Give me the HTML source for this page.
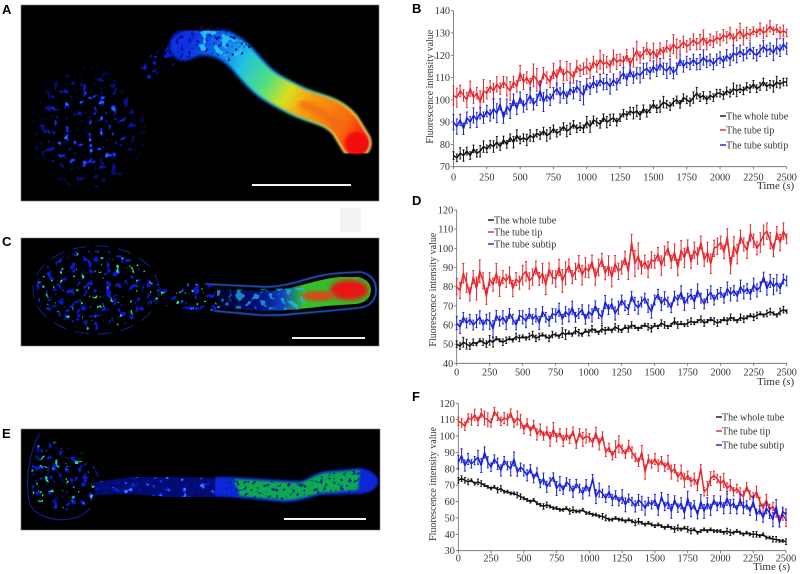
<!DOCTYPE html>
<html>
<head>
<meta charset="utf-8">
<title>Fluorescence intensity figure</title>
<style>
html,body{margin:0;padding:0;background:#fff}
svg{display:block}
text{font-family:"Liberation Serif",serif;fill:#333}
.letter{font-family:"Liberation Sans",sans-serif;font-weight:bold;font-size:13px;fill:#000}
</style>
</head>
<body>
<svg id="fig" width="800" height="574" viewBox="0 0 800 574" xmlns="http://www.w3.org/2000/svg">
<defs>
<filter id="sp-blue" filterUnits="userSpaceOnUse" x="0" y="0" width="800" height="574" color-interpolation-filters="sRGB">
<feTurbulence type="fractalNoise" baseFrequency=".17" numOctaves="2" seed="4" result="n"/>
<feColorMatrix in="n" values="0 0 0 0 .03  0 0 0 0 .1  0 0 0 0 .85  9 0 0 0 -5.2" result="c"/>
<feComposite in="c" in2="SourceAlpha" operator="in"/>
</filter>
<filter id="sp-light" filterUnits="userSpaceOnUse" x="0" y="0" width="800" height="574" color-interpolation-filters="sRGB">
<feTurbulence type="fractalNoise" baseFrequency=".17" numOctaves="2" seed="4" result="n"/>
<feColorMatrix in="n" values="0 0 0 0 .2  0 0 0 0 .5  0 0 0 0 1  14 0 0 0 -9.6" result="c"/>
<feComposite in="c" in2="SourceAlpha" operator="in"/>
</filter>
<filter id="sp-green" filterUnits="userSpaceOnUse" x="0" y="0" width="800" height="574" color-interpolation-filters="sRGB">
<feTurbulence type="fractalNoise" baseFrequency=".2" numOctaves="2" seed="14" result="n"/>
<feColorMatrix in="n" values="0 0 0 0 .15  0 0 0 0 .85  0 0 0 0 .6  14 0 0 0 -9.6" result="c"/>
<feComposite in="c" in2="SourceAlpha" operator="in"/>
</filter>
<filter id="sp-dark" filterUnits="userSpaceOnUse" x="0" y="0" width="800" height="574" color-interpolation-filters="sRGB">
<feTurbulence type="fractalNoise" baseFrequency=".25" numOctaves="2" seed="21" result="n"/>
<feColorMatrix in="n" values="0 0 0 0 0  0 0 0 0 .05  0 0 0 0 .6  9 0 0 0 -5.2" result="c"/>
<feComposite in="c" in2="SourceAlpha" operator="in"/>
</filter>
<filter id="sp-cyan" filterUnits="userSpaceOnUse" x="0" y="0" width="800" height="574" color-interpolation-filters="sRGB">
<feTurbulence type="fractalNoise" baseFrequency=".14" numOctaves="2" seed="31" result="n"/>
<feColorMatrix in="n" values="0 0 0 0 .15  0 0 0 0 .75  0 0 0 0 .95  10 0 0 0 -5.4" result="c"/>
<feComposite in="c" in2="SourceAlpha" operator="in"/>
</filter>
<filter id="b05"><feGaussianBlur stdDeviation=".5"/></filter>
<filter id="b1"><feGaussianBlur stdDeviation="1"/></filter>
<filter id="b2"><feGaussianBlur stdDeviation="2"/></filter>
<radialGradient id="spore-fade"><stop offset="0" stop-color="#fff"/><stop offset=".7" stop-color="#fff" stop-opacity=".85"/><stop offset="1" stop-color="#fff" stop-opacity=".2"/></radialGradient>
<linearGradient id="tube-a" gradientUnits="userSpaceOnUse" x1="190" y1="42" x2="365" y2="148">
<stop offset="0" stop-color="#0a30e0"/><stop offset=".14" stop-color="#1070f0"/><stop offset=".27" stop-color="#20c0e0"/><stop offset=".42" stop-color="#50e080"/><stop offset=".54" stop-color="#d8e020"/><stop offset=".64" stop-color="#f8a010"/><stop offset=".86" stop-color="#f86808"/><stop offset="1" stop-color="#f00808"/>
</linearGradient>
<linearGradient id="rim-a" gradientUnits="userSpaceOnUse" x1="190" y1="42" x2="365" y2="148">
<stop offset="0" stop-color="#001890"/><stop offset=".4" stop-color="#0868e0"/><stop offset=".65" stop-color="#30d0c0"/><stop offset=".85" stop-color="#e8e860"/><stop offset="1" stop-color="#f8f080"/>
</linearGradient>
<linearGradient id="tube-c" gradientUnits="userSpaceOnUse" x1="217" y1="0" x2="372" y2="0">
<stop offset="0" stop-color="#000428"/><stop offset=".28" stop-color="#001080"/><stop offset=".42" stop-color="#1040c0"/><stop offset=".56" stop-color="#30c030"/><stop offset="1" stop-color="#40b020"/>
</linearGradient>
</defs>

<rect width="800" height="574" fill="#fff"/>
<rect x="340" y="208" width="21" height="24" fill="#f3f3f3"/>

<g>
<rect x="21" y="5" width="358" height="196" fill="#000" stroke="#777" stroke-width=".6"/>
<ellipse cx="88" cy="128" rx="58" ry="62" fill="url(#spore-fade)" filter="url(#sp-blue)"/>
<ellipse cx="88" cy="128" rx="42" ry="42" fill="url(#spore-fade)" filter="url(#sp-light)"/>
<path d="M143 72 L165 58 L185 47" fill="none" stroke="#fff" stroke-width="20" filter="url(#sp-blue)"/>
<path d="M184 46 C200 37 225 38 245 62 S272 88 293 99 S330 108 345 125 L356 143" fill="none" stroke="url(#rim-a)" stroke-width="31" stroke-linecap="round" filter="url(#b1)"/>
<path d="M184 46 C200 37 225 38 245 62 S272 88 293 99 S330 108 345 125 L356 143" fill="none" stroke="url(#tube-a)" stroke-width="27" stroke-linecap="round" filter="url(#b1)"/>
<path d="M176 46 C200 37 225 38 240 56" fill="none" stroke="#fff" stroke-width="29" filter="url(#sp-dark)"/>
<path d="M196 42 C210 38 225 42 238 56" fill="none" stroke="#fff" stroke-width="20" filter="url(#sp-cyan)"/>
<circle cx="356" cy="143" r="11" fill="#f40a08" filter="url(#b1)"/>
<path d="M300 103 Q325 112 345 130" fill="none" stroke="#f06818" stroke-width="9" opacity=".7" filter="url(#b2)"/>
<rect x="252" y="184" width="99" height="2" fill="#f4f4f4"/>
</g>

<g>
<rect x="21" y="238" width="358" height="108" fill="#000" stroke="#777" stroke-width=".6"/>
<ellipse cx="96" cy="290" rx="63" ry="44" fill="none" stroke="#102090" stroke-width="1" stroke-dasharray="14 9"/>
<ellipse cx="94" cy="290" rx="58" ry="40" fill="#fff" filter="url(#sp-blue)"/>
<ellipse cx="94" cy="290" rx="58" ry="40" fill="#fff" filter="url(#sp-green)"/>
<path d="M150 283 L215 284 L217 312 L150 306 Z" fill="#fff" filter="url(#sp-blue)"/>
<path d="M150 283 L215 284 L217 312 L150 306 Z" fill="#fff" filter="url(#sp-green)"/>
<path d="M205 284 L267 287 C295 286 310 275 340 273 L360 272 C372 274 376 282 376 290 C376 300 370 307 358 308 L327 311 C300 313 285 316 260 315 L215 311" fill="none" stroke="#2060e8" stroke-width="1.6" filter="url(#b05)"/>
<path d="M217 289 L267 291 C295 290 310 280 340 277 L358 277 C367 279 371 284 371 290 C371 297 366 303 356 304 L327 306 C300 309 285 311 260 311 L217 308 Z" fill="url(#tube-c)"/>
<ellipse cx="349" cy="290" rx="19" ry="10" fill="#e81818" filter="url(#b2)"/>
<ellipse cx="318" cy="296" rx="17" ry="5" fill="#d84818" filter="url(#b2)"/>
<path d="M217 290 L305 288 L305 310 L217 308 Z" fill="#fff" filter="url(#sp-cyan)" opacity=".7"/>
<rect x="292" y="337" width="73" height="2" fill="#f0f0f0"/>
</g>

<g>
<rect x="21" y="429" width="359" height="101" fill="#000" stroke="#777" stroke-width=".6"/>
<path d="M40 433 C30 450 24 480 30 505 C40 522 75 526 90 508" fill="none" stroke="#101c90" stroke-width="1.2"/>
<path d="M40 440 C60 440 85 445 100 478 C100 495 88 510 70 510 C50 510 35 505 32 490 C30 470 32 450 40 440 Z" fill="#fff" filter="url(#sp-blue)"/>
<path d="M40 440 C60 440 85 445 100 478 C100 495 88 510 70 510 C50 510 35 505 32 490 C30 470 32 450 40 440 Z" fill="#fff" filter="url(#sp-green)"/>
<path d="M95 482 L130 477 L165 477 L233 478 L240 497 L170 497 L130 494 L95 495 Z" fill="#000c70"/>
<path d="M95 482 L130 477 L165 477 L233 478 L240 497 L170 497 L130 494 L95 495 Z" fill="#fff" filter="url(#sp-blue)"/>
<path d="M95 482 L130 477 L165 477 L233 478 L240 497 L170 497 L130 494 L95 495 Z" fill="#fff" filter="url(#sp-light)"/>
<path d="M215 477 L233 477 L300 481 C310 478 315 473 325 471 L360 468 C372 470 378 476 378 481 C378 488 372 493 358 494 L320 495 C305 499 295 503 280 502 L240 498 L215 496 Z" fill="#1028d8" filter="url(#b1)"/>
<path d="M233 479 L300 483 C310 480 315 475 325 473 L360 470 L358 490 L320 493 C305 497 295 500 283 500 L240 496 Z" fill="#10a850" filter="url(#b1)"/>
<path d="M225 478 L300 483 L320 474 L364 470 L358 492 L320 494 L283 500 L225 496 Z" fill="#fff" filter="url(#sp-dark)" opacity=".8"/>
<rect x="284" y="518" width="82" height="2" fill="#f4f4f4"/>
</g>

<text class="letter" x="2" y="14">A</text>
<text class="letter" x="412" y="13">B</text>
<text class="letter" x="2" y="246">C</text>
<text class="letter" x="412" y="205">D</text>
<text class="letter" x="2" y="438">E</text>
<text class="letter" x="412" y="401">F</text>
</svg>

<script>
const xTicks = [0,250,500,750,1000,1250,1500,1750,2000,2250,2500];
const sampleStep = 25;
const bYTicks = [70,80,90,100,110,120,130,140];
const dYTicks = [40,50,60,70,80,90,100,110,120];
const fYTicks = [30,40,50,60,70,80,90,100,110,120];
const legendNames = ["The whole tube","The tube tip","The tube subtip"];

const bWhole = [75,74,76,75,77,75,78,76,77,79,78,80,79,81,79,82,80,83,81,84,
82,83,82,84,83,85,84,86,84,85,87,85,86,88,86,87,89,87,88,87,
90,88,91,90,89,92,90,91,92,90,92,94,93,95,94,95,93,96,94,96,
98,96,97,99,98,97,99,100,98,101,100,99,101,103,101,102,100,102,101,103,
103,102,104,103,105,104,105,104,106,105,107,105,106,108,106,107,106,108,107,108,108];
const bTip = [102,101,104,102,100,105,101,103,99,104,103,106,104,107,105,108,106,104,108,106,
112,108,110,107,111,109,106,112,110,108,113,110,115,111,113,112,110,115,113,114,
115,113,117,115,118,116,117,115,119,117,118,117,120,116,119,122,119,121,123,120,
122,119,123,121,124,122,125,123,124,126,124,125,127,125,126,128,125,127,126,128,
127,129,128,130,127,129,131,128,130,129,131,130,132,130,131,133,131,132,130,131,130];
const bSubtip = [90,88,91,87,92,90,93,91,94,92,95,93,96,94,98,92,97,95,100,96,
101,97,99,102,98,100,104,99,102,100,103,105,102,104,101,105,103,106,104,102,
107,105,108,106,109,107,108,106,109,107,110,112,109,113,110,112,111,113,114,112,
115,113,116,114,113,115,112,114,118,115,117,116,118,116,117,119,117,118,116,118,
119,117,120,118,121,120,122,120,121,123,121,120,122,124,122,123,121,124,122,125,123];
const bWholeErr = [2,3,2,2,3,2,3,2,2,3,2,3,2,2,3,2,2,3,2,2,3,2,2,3,2,2,2,3,2,2,2,3,2,2,2,2,3,2,2,2,2,2,3,2,2,2,2,2,3,2,2];
const bTipErr = [5,3,4,3,6,3,4,3,5,3,4,3,6,3,3,4,3,5,3,3,4,3,5,3,4,3,3,5,3,3,4,3,3,5,3,3,3,4,3,3,3,3,3,4,3,2,3,3,2,3,2];
const bSubtipErr = [4,3,3,4,3,3,5,3,4,3,3,4,3,5,3,3,4,3,3,5,3,3,3,4,3,3,3,3,4,3,3,3,4,3,3,3,3,4,3,3,3,3,4,3,3,3,3,3,4,3,3];

const dWhole = [50,49,51,50,49,51,50,52,51,50,52,51,53,52,51,52,53,52,54,53,
54,53,54,55,53,54,55,54,53,55,55,54,56,55,56,55,57,56,55,57,
56,58,57,56,58,57,58,57,59,58,57,59,58,60,59,58,59,60,59,58,
60,59,61,60,59,60,62,60,61,60,61,62,61,62,63,61,62,63,62,61,
62,63,62,64,63,62,64,63,64,65,64,65,66,65,66,67,66,65,67,68,67];
const dTip = [80,78,87,82,76,85,79,88,83,75,84,81,87,80,85,83,86,79,84,82,
86,88,83,85,90,84,87,81,89,85,84,90,83,87,91,85,88,92,86,90,
88,93,85,90,94,87,91,85,92,88,90,95,88,103,92,96,90,93,89,94,
93,97,91,96,100,93,98,90,99,95,101,93,99,96,103,94,98,92,100,101,
103,98,106,91,101,97,106,102,99,108,104,100,103,107,109,104,99,108,103,109,105];
const dSubtip = [61,59,64,61,63,60,62,64,60,63,62,58,65,62,64,61,66,63,60,65,
64,62,66,63,65,61,67,64,62,66,65,68,63,67,65,69,64,66,68,63,
67,65,70,66,64,72,68,71,66,69,73,70,68,75,71,69,72,74,70,67,
73,76,71,74,72,69,75,73,77,71,74,76,72,78,74,71,75,77,73,76,
77,74,79,76,78,75,80,77,79,76,81,78,80,85,79,83,80,82,79,84,83];
const dWholeErr = [2,3,2,1,2,3,1,2,1,2,1,2,2,1,2,1,3,1,2,1,2,1,2,1,2,1,2,1,1,2,1,2,1,2,1,2,1,2,1,2,1,2,1,2,1,2,1,2,1,2,1];
const dTipErr = [5,6,4,7,5,4,6,4,5,4,6,5,4,6,4,5,7,4,5,6,4,5,4,6,5,4,5,8,4,5,4,6,4,5,6,4,5,4,6,5,4,5,6,4,5,4,6,5,4,5,3];
const dSubtipErr = [4,3,3,4,3,5,3,4,3,3,4,3,4,3,3,4,3,4,3,3,4,3,4,3,4,3,3,4,3,4,3,4,3,3,4,3,4,3,4,3,3,4,3,4,3,4,3,4,5,3,3];

const fWhole = [73,74,73,72,73,71,72,71,70,69,68,69,67,68,66,66,65,65,64,63,
62,61,60,61,59,58,57,58,57,56,56,55,55,56,54,55,54,54,55,53,
53,52,52,51,51,50,49,49,50,49,49,48,49,48,47,48,47,46,47,46,
45,46,45,44,45,44,43,44,43,44,43,42,43,41,42,43,42,43,42,42,
42,41,42,41,41,42,41,40,41,40,40,40,39,40,38,38,37,37,36,36,35.5];
const fTip = [109,108,106,111,110,113,109,114,111,110,108,115,112,109,111,110,114,108,111,109,
104,108,103,107,101,104,100,103,98,104,99,102,97,101,98,103,95,102,98,100,
99,96,102,95,100,90,93,88,92,95,92,89,94,90,87,84,90,78,86,83,
86,82,85,81,84,78,80,75,78,73,76,72,74,70,80,66,68,74,76,74,
71,73,68,70,66,68,65,63,69,64,62,66,60,56,61,55,57,53,48,52,49];
const fSubtip = [84,88,82,86,83,85,87,82,90,84,81,86,83,79,85,82,80,86,78,81,
79,76,80,74,78,71,74,69,72,75,68,71,67,72,70,66,71,68,65,70,
66,74,63,67,65,62,66,61,64,60,63,58,62,60,57,61,59,56,60,58,
61,55,63,57,60,54,61,56,59,53,62,55,58,52,60,54,59,55,61,57,
60,56,62,57,59,55,61,56,58,54,60,52,55,50,56,53,49,57,47,54,52];
const fWholeErr = [2,2,1,2,1,1,2,1,1,2,1,1,1,2,1,1,1,2,1,1,1,1,2,1,1,1,1,2,1,1,1,1,1,2,1,2,1,1,1,1,1,2,1,1,1,2,1,1,2,1,2];
const fTipErr = [3,3,4,3,5,3,3,4,3,5,3,3,4,3,5,3,4,3,3,5,3,4,3,3,6,3,4,3,5,3,4,3,5,3,5,3,4,3,5,3,5,4,3,4,3,4,3,4,3,4,5];
const fSubtipErr = [5,4,3,5,4,3,4,3,5,3,4,3,3,4,3,5,3,4,3,4,3,5,3,4,3,5,3,4,5,3,4,3,5,3,4,5,3,5,4,3,4,5,3,4,3,4,3,4,5,3,4];

const colors = {whole:"#111111", tip:"#e8262c", subtip:"#1a22d8"};
const svgNS = "http://www.w3.org/2000/svg";
const fig = document.getElementById("fig");

function mk(parent, tag, attrs, txt){
  const e = document.createElementNS(svgNS, tag);
  for (const k in attrs) e.setAttribute(k, attrs[k]);
  if (txt !== undefined) e.textContent = txt;
  parent.appendChild(e);
  return e;
}

function drawChart(cfg){
  const root = mk(fig, "g", {});
  
  
  const xMax = xTicks[xTicks.length-1];
  const yMin = cfg.yTicks[0], yMax = cfg.yTicks[cfg.yTicks.length-1];
  const sx = v => cfg.x0 + (v/xMax)*(cfg.x1-cfg.x0);
  const sy = v => cfg.y0 - ((v-yMin)/(yMax-yMin))*(cfg.y0-cfg.y1);

  const ax = mk(root, "g", {stroke:"#666", "stroke-width":"0.8", fill:"none"});
  
  
  mk(ax, "line", {x1:cfg.x0, y1:cfg.y1, x2:cfg.x0, y2:cfg.y0});
  mk(ax, "line", {x1:cfg.x0, y1:cfg.y0, x2:cfg.x1, y2:cfg.y0});

  cfg.yTicks.forEach(t => {
    mk(ax, "line", {x1:cfg.x0-2.5, y1:sy(t), x2:cfg.x0, y2:sy(t)});
    const l = mk(root, "text", {x:cfg.x0-3.5, y:sy(t)+3.5, "text-anchor":"end", "font-size":"10.2"}, String(t));
    
    
  });
  xTicks.forEach(t => {
    mk(ax, "line", {x1:sx(t), y1:cfg.y0, x2:sx(t), y2:cfg.y0+2.5});
    const l = mk(root, "text", {x:sx(t), y:cfg.xLabelY, "text-anchor":"middle", "font-size":"10.2"}, String(t));
    
    
  });

  const yt = mk(root, "text", {transform:"translate("+cfg.yTitleX+" "+((cfg.y0+cfg.y1)/2+cfg.yTitleDy)+") rotate(-90)", "text-anchor":"middle", "font-size":"10"}, "Fluorescence intensity value");
  
  
  const xt = mk(root, "text", {x:cfg.timeX, y:cfg.timeY, "font-size":"11"});
  
  
  mk(xt, "tspan", {}, "Time (");
  mk(xt, "tspan", {"font-style":"italic"}, "s");
  mk(xt, "tspan", {}, ")");

  cfg.series.forEach(s => {
    const g = mk(root, "g", {stroke:s.color, "stroke-width":"1", fill:"none"});
    
    
    const pts = s.values.map((v,i) => sx(i*sampleStep).toFixed(1)+","+sy(v).toFixed(1)).join(" ");
    mk(g, "polyline", {points:pts, "stroke-width":"1.5", "stroke-linejoin":"round"});
    s.values.forEach((v,i) => {
      const e = s.err[Math.floor(i/2)];
      const x = sx(i*sampleStep);
      const up = sy(v + e*0.85), lo = sy(v - e*0.85);
      mk(g, "line", {x1:x, y1:up, x2:x, y2:lo});
      mk(g, "line", {x1:x-1, y1:up, x2:x+1, y2:up});
      mk(g, "line", {x1:x-1, y1:lo, x2:x+1, y2:lo});
    });
  });

  legendNames.forEach((n,i) => {
    const y = cfg.legendY[i];
    const item = mk(root, "g", {});
    
    
    mk(item, "line", {x1:cfg.legendX-6, y1:y, x2:cfg.legendX, y2:y, stroke:cfg.series[i].color, "stroke-width":"1.4"});
    mk(item, "text", {x:cfg.legendX, y:y+3.5, "font-size":"10"}, n);
  });
}

drawChart({id:"panel-b", x0:453.5, x1:786.7, y0:166.7, y1:10.7, yTicks:bYTicks, xLabelY:180.5,
  yTitleX:433, yTitleDy:-2, timeX:757, timeY:189, legendX:726, legendY:[116,130,145],
  series:[{name:"whole-tube",color:colors.whole,values:bWhole,err:bWholeErr},
          {name:"tube-tip",color:colors.tip,values:bTip,err:bTipErr},
          {name:"tube-subtip",color:colors.subtip,values:bSubtip,err:bSubtipErr}]});
drawChart({id:"panel-d", x0:456.7, x1:786.7, y0:363.3, y1:210, yTicks:dYTicks, xLabelY:375.5,
  yTitleX:436, yTitleDy:3, timeX:757, timeY:385, legendX:494, legendY:[220,232,244],
  series:[{name:"whole-tube",color:colors.whole,values:dWhole,err:dWholeErr},
          {name:"tube-tip",color:colors.tip,values:dTip,err:dTipErr},
          {name:"tube-subtip",color:colors.subtip,values:dSubtip,err:dSubtipErr}]});
drawChart({id:"panel-f", x0:458.3, x1:786, y0:550.7, y1:403.3, yTicks:fYTicks, xLabelY:561.5,
  yTitleX:436, yTitleDy:7, timeX:753, timeY:570, legendX:722, legendY:[417,431,445],
  series:[{name:"whole-tube",color:colors.whole,values:fWhole,err:fWholeErr},
          {name:"tube-tip",color:colors.tip,values:fTip,err:fTipErr},
          {name:"tube-subtip",color:colors.subtip,values:fSubtip,err:fSubtipErr}]});
</script>
</body>
</html>
